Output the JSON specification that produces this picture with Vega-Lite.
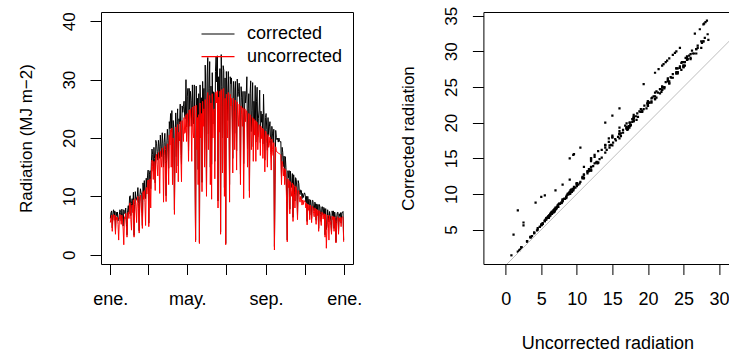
{
"$schema": "https://vega.github.io/schema/vega-lite/v6.json",
"background": "white",
"padding": {"left": 16, "top": 5, "right": 0, "bottom": 0},
"bounds": "flush",
"spacing": 130.4,
"config": {
 "font": "Liberation Sans",
 "view": {"stroke": "black", "strokeWidth": 1},
 "axis": {"grid": false, "domain": false, "tickColor": "black", "tickWidth": 1, "labelColor": "black", "titleColor": "black", "labelFont": "Liberation Sans", "titleFont": "Liberation Sans", "labelFontSize": 17, "titleFontSize": 17, "titleFontWeight": "normal", "labelFlush": false, "labelOverlap": false}
},
"datasets": {"rad": [
{"day":0,"uncorrected":5.5,"corrected":6.2},{"day":1,"uncorrected":6.3,"corrected":7.2},{"day":2,"uncorrected":6.8,"corrected":7.5},{"day":3,"uncorrected":4.0,"corrected":4.6},{"day":4,"uncorrected":6.2,"corrected":7.0},{"day":5,"uncorrected":6.9,"corrected":7.7},{"day":6,"uncorrected":5.9,"corrected":6.7},{"day":7,"uncorrected":6.8,"corrected":7.5},{"day":8,"uncorrected":3.5,"corrected":4.0},{"day":9,"uncorrected":6.5,"corrected":7.3},
{"day":10,"uncorrected":6.0,"corrected":6.7},{"day":11,"uncorrected":6.4,"corrected":7.3},{"day":12,"uncorrected":5.2,"corrected":5.8},{"day":13,"uncorrected":2.5,"corrected":6.0},{"day":14,"uncorrected":6.0,"corrected":6.8},{"day":15,"uncorrected":6.9,"corrected":7.7},{"day":16,"uncorrected":6.3,"corrected":7.2},{"day":17,"uncorrected":5.2,"corrected":5.8},{"day":18,"uncorrected":6.8,"corrected":7.8},{"day":19,"uncorrected":5.8,"corrected":6.6},
{"day":20,"uncorrected":4.4,"corrected":4.9},{"day":21,"uncorrected":1.7,"corrected":7.7},{"day":22,"uncorrected":6.5,"corrected":7.2},{"day":23,"uncorrected":6.1,"corrected":7.0},{"day":24,"uncorrected":7.1,"corrected":8.0},{"day":25,"uncorrected":5.0,"corrected":5.6},{"day":26,"uncorrected":3.0,"corrected":3.4},{"day":27,"uncorrected":6.8,"corrected":7.5},{"day":28,"uncorrected":7.3,"corrected":8.4},{"day":29,"uncorrected":6.2,"corrected":7.0},
{"day":30,"uncorrected":8.8,"corrected":9.9},{"day":31,"uncorrected":8.9,"corrected":10.1},{"day":32,"uncorrected":6.0,"corrected":6.7},{"day":33,"uncorrected":4.2,"corrected":8.8},{"day":34,"uncorrected":8.5,"corrected":9.6},{"day":35,"uncorrected":7.2,"corrected":8.1},{"day":36,"uncorrected":9.4,"corrected":10.7},{"day":37,"uncorrected":3.0,"corrected":3.3},{"day":38,"uncorrected":7.5,"corrected":8.6},{"day":39,"uncorrected":9.6,"corrected":10.8},
{"day":40,"uncorrected":8.3,"corrected":9.3},{"day":41,"uncorrected":5.5,"corrected":9.8},{"day":42,"uncorrected":9.0,"corrected":10.0},{"day":43,"uncorrected":10.0,"corrected":11.5},{"day":44,"uncorrected":7.8,"corrected":8.8},{"day":45,"uncorrected":3.7,"corrected":4.1},{"day":46,"uncorrected":8.8,"corrected":10.0},{"day":47,"uncorrected":10.2,"corrected":11.3},{"day":48,"uncorrected":9.1,"corrected":10.5},{"day":49,"uncorrected":7.0,"corrected":10.5},
{"day":50,"uncorrected":4.5,"corrected":5.0},{"day":51,"uncorrected":10.8,"corrected":12.3},{"day":52,"uncorrected":9.5,"corrected":10.5},{"day":53,"uncorrected":11.0,"corrected":12.7},{"day":54,"uncorrected":9.0,"corrected":10.2},{"day":55,"uncorrected":5.0,"corrected":9.6},{"day":56,"uncorrected":11.5,"corrected":13.1},{"day":57,"uncorrected":10.4,"corrected":11.5},{"day":58,"uncorrected":11.7,"corrected":13.5},{"day":59,"uncorrected":12.8,"corrected":14.5},
{"day":60,"uncorrected":4.8,"corrected":5.4},{"day":61,"uncorrected":11.0,"corrected":13.8},{"day":62,"uncorrected":13.0,"corrected":14.4},{"day":63,"uncorrected":8.0,"corrected":11.3},{"day":64,"uncorrected":14.0,"corrected":15.8},{"day":65,"uncorrected":16.2,"corrected":18.1},{"day":66,"uncorrected":15.1,"corrected":17.2},{"day":67,"uncorrected":12.9,"corrected":14.3},{"day":68,"uncorrected":16.0,"corrected":18.4},{"day":69,"uncorrected":14.6,"corrected":16.5},
{"day":70,"uncorrected":11.0,"corrected":12.3},{"day":71,"uncorrected":16.8,"corrected":19.6},{"day":72,"uncorrected":17.2,"corrected":19.1},{"day":73,"uncorrected":15.4,"corrected":17.7},{"day":74,"uncorrected":13.5,"corrected":16.2},{"day":75,"uncorrected":17.5,"corrected":19.6},{"day":76,"uncorrected":16.2,"corrected":18.5},{"day":77,"uncorrected":10.5,"corrected":16.5},{"day":78,"uncorrected":17.8,"corrected":20.5},{"day":79,"uncorrected":16.5,"corrected":18.6},
{"day":80,"uncorrected":15.0,"corrected":16.8},{"day":81,"uncorrected":18.3,"corrected":20.9},{"day":82,"uncorrected":17.1,"corrected":19.0},{"day":83,"uncorrected":9.0,"corrected":15.0},{"day":84,"uncorrected":17.0,"corrected":19.2},{"day":85,"uncorrected":18.6,"corrected":20.8},{"day":86,"uncorrected":15.8,"corrected":18.0},{"day":87,"uncorrected":9.1,"corrected":10.1},{"day":88,"uncorrected":16.0,"corrected":18.8},{"day":89,"uncorrected":19.0,"corrected":21.5},
{"day":90,"uncorrected":17.5,"corrected":19.6},{"day":91,"uncorrected":12.0,"corrected":14.8},{"day":92,"uncorrected":20.5,"corrected":22.8},{"day":93,"uncorrected":18.8,"corrected":21.6},{"day":94,"uncorrected":21.4,"corrected":24.2},{"day":95,"uncorrected":15.0,"corrected":21.0},{"day":96,"uncorrected":21.7,"corrected":24.7},{"day":97,"uncorrected":12.0,"corrected":15.0},{"day":98,"uncorrected":20.0,"corrected":23.0},{"day":99,"uncorrected":19.2,"corrected":21.7},
{"day":100,"uncorrected":6.9,"corrected":7.7},{"day":101,"uncorrected":18.0,"corrected":20.5},{"day":102,"uncorrected":21.9,"corrected":24.3},{"day":103,"uncorrected":14.0,"corrected":16.8},{"day":104,"uncorrected":20.2,"corrected":22.8},{"day":105,"uncorrected":22.3,"corrected":25.0},{"day":106,"uncorrected":12.5,"corrected":15.2},{"day":107,"uncorrected":21.0,"corrected":23.3},{"day":108,"uncorrected":19.5,"corrected":22.4},{"day":109,"uncorrected":22.8,"corrected":25.8},
{"day":110,"uncorrected":17.0,"corrected":19.9},{"day":111,"uncorrected":12.5,"corrected":15.5},{"day":112,"uncorrected":23.0,"corrected":25.5},{"day":113,"uncorrected":21.2,"corrected":24.4},{"day":114,"uncorrected":19.4,"corrected":25.4},{"day":115,"uncorrected":23.5,"corrected":26.3},{"day":116,"uncorrected":20.8,"corrected":23.7},{"day":117,"uncorrected":21.0,"corrected":23.3},{"day":118,"uncorrected":24.0,"corrected":30.0},{"day":119,"uncorrected":19.4,"corrected":21.9},
{"day":120,"uncorrected":24.2,"corrected":27.1},{"day":121,"uncorrected":22.5,"corrected":28.5},{"day":122,"uncorrected":16.0,"corrected":17.8},{"day":123,"uncorrected":24.8,"corrected":28.5},{"day":124,"uncorrected":22.0,"corrected":24.9},{"day":125,"uncorrected":25.0,"corrected":28.0},{"day":126,"uncorrected":23.2,"corrected":26.4},{"day":127,"uncorrected":16.0,"corrected":22.0},{"day":128,"uncorrected":25.3,"corrected":29.1},{"day":129,"uncorrected":21.0,"corrected":23.7},
{"day":130,"uncorrected":20.0,"corrected":22.4},{"day":131,"uncorrected":25.5,"corrected":29.1},{"day":132,"uncorrected":14.0,"corrected":16.9},{"day":133,"uncorrected":2.2,"corrected":2.5},{"day":134,"uncorrected":25.6,"corrected":28.9},{"day":135,"uncorrected":18.0,"corrected":20.2},{"day":136,"uncorrected":23.5,"corrected":26.8},{"day":137,"uncorrected":12.0,"corrected":14.6},{"day":138,"uncorrected":24.0,"corrected":27.6},{"day":139,"uncorrected":1.9,"corrected":2.1},
{"day":140,"uncorrected":26.0,"corrected":29.1},{"day":141,"uncorrected":20.0,"corrected":22.8},{"day":142,"uncorrected":24.2,"corrected":26.9},{"day":143,"uncorrected":10.8,"corrected":12.4},{"day":144,"uncorrected":26.3,"corrected":29.7},{"day":145,"uncorrected":22.0,"corrected":24.6},{"day":146,"uncorrected":25.0,"corrected":28.5},{"day":147,"uncorrected":15.0,"corrected":18.0},{"day":148,"uncorrected":26.6,"corrected":32.5},{"day":149,"uncorrected":24.5,"corrected":27.7},
{"day":150,"uncorrected":10.0,"corrected":11.2},{"day":151,"uncorrected":27.0,"corrected":30.8},{"day":152,"uncorrected":27.8,"corrected":33.8},{"day":153,"uncorrected":18.0,"corrected":20.7},{"day":154,"uncorrected":25.2,"corrected":28.5},{"day":155,"uncorrected":27.3,"corrected":33.1},{"day":156,"uncorrected":12.0,"corrected":15.0},{"day":157,"uncorrected":26.0,"corrected":28.9},{"day":158,"uncorrected":9.5,"corrected":15.5},{"day":159,"uncorrected":27.6,"corrected":31.2},
{"day":160,"uncorrected":20.0,"corrected":22.4},{"day":161,"uncorrected":24.5,"corrected":27.9},{"day":162,"uncorrected":25.0,"corrected":27.8},{"day":163,"uncorrected":13.0,"corrected":16.0},{"day":164,"uncorrected":27.8,"corrected":31.4},{"day":165,"uncorrected":27.9,"corrected":33.9},{"day":166,"uncorrected":26.0,"corrected":29.6},{"day":167,"uncorrected":28.1,"corrected":34.1},{"day":168,"uncorrected":8.0,"corrected":9.2},{"day":169,"uncorrected":27.0,"corrected":30.5},
{"day":170,"uncorrected":21.0,"corrected":27.0},{"day":171,"uncorrected":28.0,"corrected":31.9},{"day":172,"uncorrected":3.5,"corrected":3.9},{"day":173,"uncorrected":28.3,"corrected":34.3},{"day":174,"uncorrected":25.5,"corrected":28.8},{"day":175,"uncorrected":14.0,"corrected":20.0},{"day":176,"uncorrected":28.4,"corrected":32.4},{"day":177,"uncorrected":28.5,"corrected":31.6},{"day":178,"uncorrected":10.0,"corrected":11.5},{"day":179,"uncorrected":26.8,"corrected":30.3},
{"day":180,"uncorrected":1.7,"corrected":1.9},{"day":181,"uncorrected":27.5,"corrected":31.4},{"day":182,"uncorrected":25.0,"corrected":27.8},{"day":183,"uncorrected":20.0,"corrected":23.0},{"day":184,"uncorrected":27.8,"corrected":31.4},{"day":185,"uncorrected":24.0,"corrected":26.9},{"day":186,"uncorrected":9.0,"corrected":12.0},{"day":187,"uncorrected":27.5,"corrected":30.5},{"day":188,"uncorrected":25.5,"corrected":29.3},{"day":189,"uncorrected":26.8,"corrected":30.3},
{"day":190,"uncorrected":23.0,"corrected":25.8},{"day":191,"uncorrected":14.0,"corrected":16.5},{"day":192,"uncorrected":26.8,"corrected":29.7},{"day":193,"uncorrected":24.7,"corrected":28.4},{"day":194,"uncorrected":18.0,"corrected":20.8},{"day":195,"uncorrected":26.5,"corrected":29.7},{"day":196,"uncorrected":22.5,"corrected":25.7},{"day":197,"uncorrected":14.5,"corrected":17.8},{"day":198,"uncorrected":26.2,"corrected":30.1},{"day":199,"uncorrected":24.0,"corrected":27.1},
{"day":200,"uncorrected":22.0,"corrected":28.0},{"day":201,"uncorrected":25.8,"corrected":29.4},{"day":202,"uncorrected":23.0,"corrected":25.5},{"day":203,"uncorrected":12.0,"corrected":13.8},{"day":204,"uncorrected":25.5,"corrected":28.8},{"day":205,"uncorrected":24.0,"corrected":26.9},{"day":206,"uncorrected":22.0,"corrected":25.1},{"day":207,"uncorrected":25.2,"corrected":28.0},{"day":208,"uncorrected":9.6,"corrected":15.6},{"day":209,"uncorrected":20.0,"corrected":22.6},
{"day":210,"uncorrected":25.0,"corrected":28.0},{"day":211,"uncorrected":22.8,"corrected":26.0},{"day":212,"uncorrected":24.7,"corrected":27.4},{"day":213,"uncorrected":24.5,"corrected":30.5},{"day":214,"uncorrected":15.0,"corrected":18.2},{"day":215,"uncorrected":22.3,"corrected":25.0},{"day":216,"uncorrected":24.2,"corrected":27.6},{"day":217,"uncorrected":9.8,"corrected":10.9},{"day":218,"uncorrected":24.0,"corrected":27.6},{"day":219,"uncorrected":23.8,"corrected":29.8},
{"day":220,"uncorrected":18.0,"corrected":21.1},{"day":221,"uncorrected":21.7,"corrected":24.7},{"day":222,"uncorrected":23.5,"corrected":29.5},{"day":223,"uncorrected":16.0,"corrected":18.5},{"day":224,"uncorrected":23.3,"corrected":26.3},{"day":225,"uncorrected":20.5,"corrected":23.0},{"day":226,"uncorrected":23.0,"corrected":29.0},{"day":227,"uncorrected":16.0,"corrected":19.3},{"day":228,"uncorrected":22.8,"corrected":26.2},{"day":229,"uncorrected":22.7,"corrected":28.7},
{"day":230,"uncorrected":18.0,"corrected":20.2},{"day":231,"uncorrected":20.5,"corrected":23.4},{"day":232,"uncorrected":22.3,"corrected":24.8},{"day":233,"uncorrected":22.2,"corrected":28.2},{"day":234,"uncorrected":17.0,"corrected":19.2},{"day":235,"uncorrected":22.0,"corrected":24.6},{"day":236,"uncorrected":19.9,"corrected":22.7},{"day":237,"uncorrected":21.7,"corrected":24.1},{"day":238,"uncorrected":16.5,"corrected":19.0},{"day":239,"uncorrected":21.5,"corrected":27.5},
{"day":240,"uncorrected":20.0,"corrected":22.4},{"day":241,"uncorrected":14.2,"corrected":16.2},{"day":242,"uncorrected":21.2,"corrected":23.5},{"day":243,"uncorrected":21.0,"corrected":24.2},{"day":244,"uncorrected":19.0,"corrected":21.5},{"day":245,"uncorrected":15.0,"corrected":17.9},{"day":246,"uncorrected":20.6,"corrected":23.5},{"day":247,"uncorrected":18.4,"corrected":20.4},{"day":248,"uncorrected":19.0,"corrected":21.9},{"day":249,"uncorrected":20.2,"corrected":22.8},
{"day":250,"uncorrected":17.5,"corrected":19.6},{"day":251,"uncorrected":14.5,"corrected":17.3},{"day":252,"uncorrected":19.8,"corrected":22.0},{"day":253,"uncorrected":18.0,"corrected":20.7},{"day":254,"uncorrected":17.0,"corrected":19.2},{"day":255,"uncorrected":19.2,"corrected":21.5},{"day":256,"uncorrected":0.8,"corrected":1.4},{"day":257,"uncorrected":12.0,"corrected":13.3},{"day":258,"uncorrected":18.5,"corrected":21.3},{"day":259,"uncorrected":17.8,"corrected":20.1},
{"day":260,"uncorrected":17.6,"corrected":19.7},{"day":261,"uncorrected":17.5,"corrected":20.0},{"day":262,"uncorrected":17.4,"corrected":19.3},{"day":263,"uncorrected":17.4,"corrected":20.0},{"day":264,"uncorrected":17.3,"corrected":19.5},{"day":265,"uncorrected":17.2,"corrected":19.3},{"day":266,"uncorrected":17.0,"corrected":19.4},{"day":267,"uncorrected":12.0,"corrected":13.3},{"day":268,"uncorrected":16.0,"corrected":18.4},{"day":269,"uncorrected":15.5,"corrected":17.5},
{"day":270,"uncorrected":13.5,"corrected":15.1},{"day":271,"uncorrected":14.8,"corrected":16.9},{"day":272,"uncorrected":12.0,"corrected":13.3},{"day":273,"uncorrected":14.6,"corrected":16.8},{"day":274,"uncorrected":13.2,"corrected":14.9},{"day":275,"uncorrected":9.0,"corrected":10.1},{"day":276,"uncorrected":2.2,"corrected":2.5},{"day":277,"uncorrected":13.0,"corrected":14.4},{"day":278,"uncorrected":11.5,"corrected":13.2},{"day":279,"uncorrected":12.7,"corrected":14.4},
{"day":280,"uncorrected":7.0,"corrected":7.8},{"day":281,"uncorrected":12.5,"corrected":14.3},{"day":282,"uncorrected":11.0,"corrected":12.2},{"day":283,"uncorrected":10.0,"corrected":11.5},{"day":284,"uncorrected":12.3,"corrected":13.9},{"day":285,"uncorrected":5.7,"corrected":6.4},{"day":286,"uncorrected":12.0,"corrected":13.7},{"day":287,"uncorrected":10.5,"corrected":11.7},{"day":288,"uncorrected":8.0,"corrected":9.2},{"day":289,"uncorrected":11.7,"corrected":13.2},
{"day":290,"uncorrected":11.5,"corrected":12.9},{"day":291,"uncorrected":10.0,"corrected":11.4},{"day":292,"uncorrected":6.0,"corrected":6.7},{"day":293,"uncorrected":11.0,"corrected":12.7},{"day":294,"uncorrected":10.8,"corrected":12.2},{"day":295,"uncorrected":9.5,"corrected":10.6},{"day":296,"uncorrected":9.0,"corrected":10.3},{"day":297,"uncorrected":10.0,"corrected":11.1},{"day":298,"uncorrected":9.6,"corrected":11.0},{"day":299,"uncorrected":8.5,"corrected":9.6},
{"day":300,"uncorrected":9.4,"corrected":10.5},{"day":301,"uncorrected":8.6,"corrected":9.8},{"day":302,"uncorrected":9.3,"corrected":10.3},{"day":303,"uncorrected":9.2,"corrected":10.6},{"day":304,"uncorrected":9.0,"corrected":10.2},{"day":305,"uncorrected":8.0,"corrected":9.0},{"day":306,"uncorrected":8.8,"corrected":10.0},{"day":307,"uncorrected":5.1,"corrected":5.7},{"day":308,"uncorrected":8.7,"corrected":10.0},{"day":309,"uncorrected":7.6,"corrected":8.6},
{"day":310,"uncorrected":8.5,"corrected":9.5},{"day":311,"uncorrected":6.0,"corrected":6.8},{"day":312,"uncorrected":8.5,"corrected":9.4},{"day":313,"uncorrected":7.4,"corrected":8.5},{"day":314,"uncorrected":5.5,"corrected":6.2},{"day":315,"uncorrected":8.3,"corrected":9.3},{"day":316,"uncorrected":8.2,"corrected":9.3},{"day":317,"uncorrected":7.1,"corrected":7.9},{"day":318,"uncorrected":6.5,"corrected":7.5},{"day":319,"uncorrected":8.0,"corrected":9.0},
{"day":320,"uncorrected":7.9,"corrected":8.8},{"day":321,"uncorrected":5.2,"corrected":5.9},{"day":322,"uncorrected":7.8,"corrected":8.7},{"day":323,"uncorrected":6.7,"corrected":7.7},{"day":324,"uncorrected":7.6,"corrected":8.6},{"day":325,"uncorrected":4.0,"corrected":4.5},{"day":326,"uncorrected":7.5,"corrected":8.6},{"day":327,"uncorrected":7.4,"corrected":8.2},{"day":328,"uncorrected":6.0,"corrected":6.9},{"day":329,"uncorrected":5.0,"corrected":5.7},
{"day":330,"uncorrected":7.3,"corrected":8.2},{"day":331,"uncorrected":7.2,"corrected":8.2},{"day":332,"uncorrected":6.1,"corrected":6.8},{"day":333,"uncorrected":7.0,"corrected":8.1},{"day":334,"uncorrected":7.0,"corrected":7.9},{"day":335,"uncorrected":3.0,"corrected":3.4},{"day":336,"uncorrected":6.9,"corrected":7.9},{"day":337,"uncorrected":1.1,"corrected":4.3},{"day":338,"uncorrected":4.5,"corrected":5.2},{"day":339,"uncorrected":6.8,"corrected":7.7},
{"day":340,"uncorrected":6.0,"corrected":6.7},{"day":341,"uncorrected":2.5,"corrected":5.6},{"day":342,"uncorrected":6.7,"corrected":7.4},{"day":343,"uncorrected":5.8,"corrected":6.7},{"day":344,"uncorrected":5.0,"corrected":5.7},{"day":345,"uncorrected":3.5,"corrected":3.9},{"day":346,"uncorrected":6.6,"corrected":7.5},{"day":347,"uncorrected":6.0,"corrected":6.7},{"day":348,"uncorrected":6.5,"corrected":7.5},{"day":349,"uncorrected":4.0,"corrected":4.5},
{"day":350,"uncorrected":6.5,"corrected":7.3},{"day":351,"uncorrected":5.6,"corrected":6.4},{"day":352,"uncorrected":2.0,"corrected":2.2},{"day":353,"uncorrected":5.5,"corrected":6.3},{"day":354,"uncorrected":6.4,"corrected":7.2},{"day":355,"uncorrected":6.5,"corrected":7.3},{"day":356,"uncorrected":3.5,"corrected":4.0},{"day":357,"uncorrected":6.3,"corrected":7.0},{"day":358,"uncorrected":5.7,"corrected":6.6},{"day":359,"uncorrected":6.4,"corrected":7.2},
{"day":360,"uncorrected":4.8,"corrected":5.4},{"day":361,"uncorrected":6.3,"corrected":7.2},{"day":362,"uncorrected":6.5,"corrected":7.2},{"day":363,"uncorrected":6.4,"corrected":7.4},{"day":364,"uncorrected":2.2,"corrected":2.5}
]},
"hconcat": [
 {
  "width": 252, "height": 252,
  "data": {"name": "rad"},
  "layer": [
   {
    "mark": {"type": "line", "strokeWidth": 1, "clip": true},
    "encoding": {
     "x": {"field": "day", "type": "quantitative", "scale": {"domain": [-14.56, 378.56], "nice": false, "zero": false},
           "axis": {"title": null, "values": [0, 59, 120, 181, 243, 304, 365], "tickSize": 10.5, "labelPadding": 29.5, "labelBaseline": "alphabetic", "labelAngle": 0, "labelFontSize": 18,
                    "labelExpr": "datum.value == 0 || datum.value == 365 ? 'ene.' : datum.value == 120 ? 'may.' : datum.value == 243 ? 'sep.' : ''"}},
     "y": {"field": "corrected", "type": "quantitative", "title": "Radiation (MJ m\u22122)", "scale": {"domain": [-1.6, 41.6], "nice": false, "zero": false},
           "axis": {"values": [0, 10, 20, 30, 40], "tickSize": 11, "labelAngle": -90, "labelAlign": "center", "labelBaseline": "alphabetic", "labelPadding": 15.5,
                    "titleX": -70, "titleY": 126, "titleAngle": -90, "titleAlign": "center", "titleBaseline": "alphabetic"}},
     "color": {"datum": "corrected", "type": "nominal", "scale": {"domain": ["corrected", "uncorrected"], "range": ["black", "#ff0000"]},
               "legend": {"orient": "none", "legendX": 108, "legendY": 13, "title": null, "symbolType": "M-3,0H3", "symbolSize": 121, "symbolStrokeWidth": 1.2,
                          "labelFont": "Liberation Sans", "labelFontSize": 18, "labelColor": "black", "labelOffset": 20, "rowPadding": 4.6, "padding": 0}}
    }
   },
   {
    "mark": {"type": "line", "strokeWidth": 1, "clip": true},
    "encoding": {
     "x": {"field": "day", "type": "quantitative"},
     "y": {"field": "uncorrected", "type": "quantitative", "title": "Radiation (MJ m\u22122)"},
     "color": {"datum": "uncorrected", "type": "nominal"}
    }
   }
  ]
 },
 {
  "width": 248, "height": 252,
  "layer": [
   {
    "data": {"name": "rad"},
    "mark": {"type": "square", "size": 5, "color": "black", "opacity": 1, "clip": true},
    "encoding": {
     "x": {"field": "uncorrected", "type": "quantitative", "title": "Uncorrected radiation", "scale": {"domain": [-3.14, 31.74], "nice": false, "zero": false},
           "axis": {"values": [0, 5, 10, 15, 20, 25, 30], "tickSize": 10.5, "labelPadding": 29.5, "labelBaseline": "alphabetic", "labelAngle": 0, "labelFontSize": 18, "titleFontSize": 18,
                    "titleX": 124, "titleY": 84, "titleAlign": "center", "titleBaseline": "alphabetic"}},
     "y": {"field": "corrected", "type": "quantitative", "title": "Corrected radiation", "scale": {"domain": [0.18, 35.52], "nice": false, "zero": false},
           "axis": {"values": [5, 10, 15, 20, 25, 30, 35], "tickSize": 11, "labelAngle": -90, "labelAlign": "center", "labelBaseline": "alphabetic", "labelPadding": 15.5,
                    "titleX": -70, "titleY": 126, "titleAngle": -90, "titleAlign": "center", "titleBaseline": "alphabetic"}}
    }
   },
   {
    "data": {"values": [{"uncorrected": -5, "corrected": -5}, {"uncorrected": 45, "corrected": 45}]},
    "mark": {"type": "line", "color": "#bebebe", "strokeWidth": 1, "clip": true},
    "encoding": {
     "x": {"field": "uncorrected", "type": "quantitative", "title": "Uncorrected radiation"},
     "y": {"field": "corrected", "type": "quantitative", "title": "Corrected radiation"}
    }
   }
  ]
 }
]
}
